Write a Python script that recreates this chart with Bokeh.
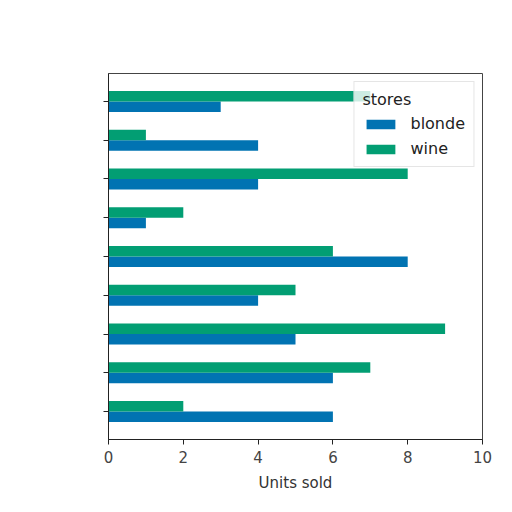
from bokeh.plotting import figure
from bokeh.models import ColumnDataSource, FactorRange, Range1d, FixedTicker, Legend, LegendItem, CustomLabelingPolicy
from bokeh.transform import dodge
from bokeh.embed import file_html
from bokeh.resources import INLINE

# categories listed top to bottom (labels are not shown in the reference)
categories = ["1", "2", "3", "4", "5", "6", "7", "8", "9"]
blonde = [3, 4, 4, 1, 8, 4, 5, 6, 6]
wine = [7, 1, 8, 2, 6, 5, 9, 7, 2]
x_ticks = [0, 2, 4, 6, 8, 10]

src = ColumnDataSource(dict(cat=categories, blonde=blonde, wine=wine))

p = figure(width=496, height=496, output_backend="svg", toolbar_location=None,
           y_range=FactorRange(factors=categories[::-1], range_padding=0.22,
                               range_padding_units="absolute"),
           x_range=Range1d(0, 10),
           min_border_left=108, min_border_right=14, min_border_top=73, min_border_bottom=57)

r_b = p.hbar(y=dodge("cat", -0.135, range=p.y_range), right="blonde", height=0.27,
             source=src, color="#0173B2", line_color=None)
r_w = p.hbar(y=dodge("cat", 0.135, range=p.y_range), right="wine", height=0.27,
             source=src, color="#029E73", line_color=None)

p.xgrid.visible = False
p.ygrid.visible = False
p.outline_line_color = "#444444"
p.background_fill_color = "white"

p.xaxis.ticker = FixedTicker(ticks=x_ticks)
p.xaxis.axis_label = "Units sold"
p.xaxis.axis_label_text_font = "DejaVu Sans"
p.xaxis.axis_label_text_font_style = "normal"
p.xaxis.axis_label_text_font_size = "15px"
p.xaxis.axis_label_text_color = "#333333"
p.xaxis.axis_label_standoff = 8
p.xaxis.major_label_text_font = "DejaVu Sans"
p.xaxis.major_label_text_font_size = "15px"
p.xaxis.major_label_text_color = "#444444"
p.xaxis.major_label_standoff = 6
p.xaxis.minor_tick_line_color = None
for ax in (p.xaxis, p.yaxis):
    ax.major_tick_in = 0
    ax.major_tick_out = 5
    ax.axis_line_color = "#222222"
    ax.major_tick_line_color = "#222222"
p.yaxis.major_label_policy = CustomLabelingPolicy(code="for (const i of indices) indices.unset(i)")

legend = Legend(items=[LegendItem(label="blonde", renderers=[r_b]),
                       LegendItem(label="wine", renderers=[r_w])],
                title="stores", location="top_right")
legend.title_text_font = "DejaVu Sans"
legend.title_text_font_size = "16px"
legend.title_text_font_style = "normal"
legend.title_text_color = "#222222"
legend.label_text_font = "DejaVu Sans"
legend.label_text_font_size = "16px"
legend.label_text_color = "#222222"
legend.glyph_width = 36
legend.glyph_height = 12
legend.label_standoff = 12
legend.spacing = 6
legend.padding = 8
legend.margin = 8
legend.background_fill_alpha = 0.8
legend.border_line_color = "#cccccc"
p.add_layout(legend)

open("out.html", "w").write(file_html(p, INLINE))
